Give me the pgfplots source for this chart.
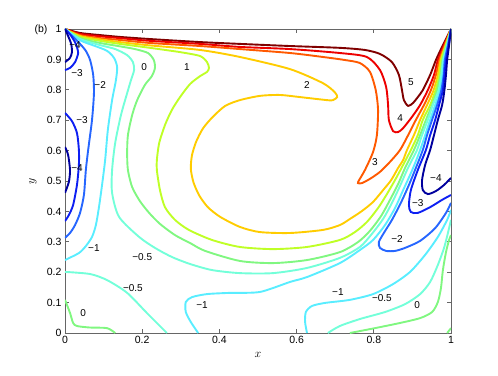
\documentclass[border=0pt]{standalone}
\usepackage{fontspec}
\setmainfont{Liberation Sans}
\usepackage{pgfplots}
\pgfplotsset{compat=1.18}
% contour colours, jet-like, one per level
\definecolor{lvA}{rgb}{0,0,0.62}      % -4
\definecolor{lvB}{rgb}{0.05,0.12,0.95}% -3
\definecolor{lvC}{rgb}{0.15,0.4,1}    % -2
\definecolor{lvD}{rgb}{0.35,0.93,1}   % -1
\definecolor{lvE}{rgb}{0.45,1,0.85}   % -0.5
\definecolor{lvF}{rgb}{0.5,0.97,0.5}  % 0
\definecolor{lvG}{rgb}{0.75,1,0.15}   % 1
\definecolor{lvH}{rgb}{1,0.8,0}       % 2
\definecolor{lvI}{rgb}{1,0.35,0}      % 3
\definecolor{lvJ}{rgb}{0.93,0,0}      % 4
\definecolor{lvK}{rgb}{0.5,0,0}       % 5
\begin{document}
\begin{tikzpicture}
\useasboundingbox (-65pt,-42pt) rectangle (433pt,333pt);
\begin{axis}[
  scale only axis, width=386pt, height=304pt,
  xmin=0, xmax=1, ymin=0, ymax=1,
  xtick={0,0.2,0.4,0.6,0.8,1},
  ytick={0,0.1,0.2,0.3,0.4,0.5,0.6,0.7,0.8,0.9,1},
  tick align=inside, major tick length=4.5pt,
  axis line style={black!60, line width=0.7pt},
  every tick/.style={black!60, line width=0.7pt},
  tick label style={font=\fontsize{10.5}{12}\selectfont, black},
  /pgf/number format/assume math mode=true,
  xlabel={$x$}, ylabel={$y$},
  xlabel style={at={(axis description cs:0.5,-0.072)}, anchor=center, font=\large},
  ylabel style={at={(axis description cs:-0.083,0.5)}, anchor=center, font=\large},
  every axis plot/.append style={line width=1.9pt, smooth, tension=0.45},
  every node/.append style={font=\fontsize{11}{12}\selectfont},
]
% level 5
\addplot[lvK] coordinates {(0,1) (0.039,0.987) (0.091,0.980) (0.142,0.974) (0.220,0.967) (0.350,0.957) (0.453,0.951) (0.583,0.944) (0.712,0.938) (0.777,0.931) (0.816,0.918) (0.847,0.891) (0.865,0.849) (0.873,0.799) (0.878,0.766) (0.889,0.747) (0.902,0.757) (0.914,0.776) (0.927,0.799) (0.946,0.849) (0.961,0.898) (0.979,0.947) (1,1)};
% level 4
\addplot[lvJ] coordinates {(0,1) (0.039,0.984) (0.091,0.976) (0.142,0.970) (0.220,0.961) (0.350,0.951) (0.453,0.941) (0.583,0.934) (0.712,0.921) (0.782,0.908) (0.816,0.865) (0.832,0.809) (0.837,0.750) (0.839,0.701) (0.850,0.664) (0.863,0.661) (0.876,0.674) (0.899,0.711) (0.920,0.750) (0.940,0.799) (0.956,0.849) (0.966,0.898) (0.982,0.947) (1,1)};
% level 3
\addplot[lvI] coordinates {(0,1) (0.039,0.980) (0.091,0.970) (0.142,0.964) (0.220,0.954) (0.350,0.944) (0.453,0.934) (0.583,0.921) (0.668,0.908) (0.725,0.898) (0.764,0.888) (0.790,0.859) (0.805,0.799) (0.811,0.734) (0.808,0.651) (0.798,0.595) (0.777,0.536) (0.762,0.503) (0.759,0.493) (0.769,0.493) (0.790,0.507) (0.816,0.530) (0.842,0.563) (0.868,0.602) (0.889,0.651) (0.909,0.701) (0.930,0.750) (0.948,0.799) (0.961,0.849) (0.970,0.898) (0.984,0.947) (1,1)};
% level 2
\addplot[lvH] coordinates {(0,1) (0.039,0.977) (0.091,0.966) (0.142,0.957) (0.220,0.946) (0.350,0.931) (0.453,0.908) (0.583,0.868) (0.668,0.822) (0.699,0.792) (0.705,0.776) (0.694,0.766) (0.679,0.766) (0.609,0.776) (0.557,0.783) (0.505,0.780) (0.453,0.766) (0.415,0.747) (0.383,0.711) (0.358,0.674) (0.340,0.630) (0.329,0.585) (0.326,0.540) (0.333,0.495) (0.348,0.452) (0.370,0.414) (0.402,0.382) (0.453,0.349) (0.505,0.332) (0.583,0.329) (0.668,0.339) (0.712,0.355) (0.738,0.375) (0.769,0.401) (0.798,0.431) (0.824,0.470) (0.845,0.503) (0.863,0.543) (0.876,0.569) (0.886,0.602) (0.904,0.651) (0.920,0.701) (0.938,0.750) (0.955,0.799) (0.966,0.849) (0.973,0.898) (0.986,0.947) (1,1)};
% level 1
\addplot[lvG] coordinates {(0,1) (0.039,0.974) (0.091,0.961) (0.142,0.951) (0.220,0.938) (0.298,0.924) (0.350,0.911) (0.368,0.891) (0.373,0.872) (0.368,0.859) (0.350,0.845) (0.324,0.819) (0.298,0.776) (0.277,0.734) (0.259,0.684) (0.244,0.625) (0.238,0.569) (0.238,0.536) (0.246,0.470) (0.259,0.414) (0.285,0.372) (0.321,0.339) (0.381,0.306) (0.453,0.283) (0.539,0.276) (0.627,0.283) (0.712,0.306) (0.751,0.332) (0.782,0.365) (0.811,0.411) (0.834,0.457) (0.858,0.510) (0.876,0.553) (0.896,0.602) (0.914,0.651) (0.927,0.701) (0.946,0.750) (0.960,0.799) (0.970,0.849) (0.975,0.898) (0.987,0.947) (1,1)};
% level 0
\addplot[lvF] coordinates {(0,1) (0.039,0.970) (0.091,0.954) (0.142,0.943) (0.181,0.934) (0.215,0.921) (0.230,0.898) (0.233,0.872) (0.225,0.845) (0.207,0.816) (0.187,0.766) (0.174,0.717) (0.163,0.651) (0.161,0.592) (0.163,0.536) (0.174,0.480) (0.194,0.434) (0.218,0.395) (0.246,0.359) (0.285,0.322) (0.324,0.296) (0.363,0.270) (0.453,0.237) (0.539,0.230) (0.627,0.240) (0.712,0.266) (0.759,0.299) (0.790,0.336) (0.819,0.385) (0.842,0.438) (0.863,0.490) (0.881,0.543) (0.904,0.602) (0.920,0.651) (0.935,0.701) (0.951,0.750) (0.964,0.799) (0.973,0.849) (0.978,0.898) (0.988,0.947) (1,1)};
\addplot[lvF] coordinates {(0,0.109) (0.013,0.066) (0.021,0.033) (0.031,0.023) (0.065,0.018) (0.109,0.016) (0.130,0)};
\addplot[lvF] coordinates {(0.738,0) (0.803,0.016) (0.868,0.033) (0.920,0.049) (0.951,0.069) (0.966,0.102) (0.974,0.148) (0.979,0.207) (0.987,0.266) (0.995,0.306) (1,0.322)};
\addplot[lvF] coordinates {(0.990,0) (1,0.016)};
% level -0.5
\addplot[lvE] coordinates {(0,1) (0.039,0.967) (0.091,0.947) (0.130,0.934) (0.161,0.914) (0.176,0.891) (0.179,0.865) (0.171,0.832) (0.161,0.789) (0.145,0.717) (0.130,0.625) (0.122,0.536) (0.122,0.461) (0.140,0.382) (0.192,0.316) (0.233,0.280) (0.277,0.250) (0.324,0.227) (0.381,0.207) (0.453,0.197) (0.539,0.197) (0.627,0.214) (0.712,0.247) (0.764,0.283) (0.795,0.326) (0.824,0.375) (0.847,0.428) (0.868,0.484) (0.886,0.536) (0.899,0.569) (0.912,0.602) (0.925,0.651) (0.940,0.701) (0.953,0.750) (0.968,0.799) (0.975,0.849) (0.980,0.898) (0.990,0.947) (1,1)};
\addplot[lvE] coordinates {(0,0.201) (0.065,0.194) (0.109,0.174) (0.161,0.132) (0.212,0.066) (0.264,0)};
\addplot[lvE] coordinates {(0.681,0) (0.712,0.023) (0.764,0.046) (0.829,0.069) (0.881,0.095) (0.920,0.128) (0.946,0.168) (0.966,0.224) (0.982,0.280) (0.992,0.329) (1,0.372)};
% level -1
\addplot[lvD] coordinates {(0,1) (0.039,0.963) (0.078,0.944) (0.109,0.928) (0.127,0.905) (0.135,0.875) (0.132,0.832) (0.122,0.766) (0.111,0.668) (0.104,0.569) (0.096,0.487) (0.088,0.414) (0.080,0.355) (0.070,0.316) (0.054,0.286) (0.036,0.263) (0,0.240)};
\addplot[lvD] coordinates {(0.345,0) (0.326,0.036) (0.313,0.069) (0.313,0.102) (0.329,0.118) (0.368,0.128) (0.427,0.132) (0.505,0.135) (0.583,0.168) (0.627,0.184) (0.712,0.230) (0.764,0.273) (0.798,0.306) (0.829,0.355) (0.855,0.411) (0.876,0.470) (0.894,0.520) (0.907,0.559) (0.920,0.602) (0.933,0.651) (0.946,0.701) (0.959,0.750) (0.972,0.799) (0.978,0.849) (0.982,0.898) (0.991,0.947) (1,1)};
\addplot[lvD] coordinates {(0.627,0) (0.622,0.036) (0.624,0.069) (0.640,0.089) (0.674,0.099) (0.738,0.109) (0.798,0.128) (0.850,0.161) (0.894,0.201) (0.933,0.257) (0.966,0.316) (0.990,0.372) (1,0.405)};
% level -2
\addplot[lvC] coordinates {(0,1) (0.021,0.974) (0.039,0.951) (0.054,0.928) (0.065,0.898) (0.073,0.849) (0.075,0.789) (0.070,0.701) (0.060,0.602) (0.054,0.536) (0.049,0.454) (0.039,0.395) (0.026,0.355) (0.013,0.329) (0,0.313)};
\addplot[lvC] coordinates {(1,1) (0.992,0.947) (0.984,0.898) (0.981,0.849) (0.975,0.799) (0.964,0.750) (0.951,0.701) (0.938,0.651) (0.927,0.602) (0.909,0.543) (0.891,0.487) (0.870,0.428) (0.847,0.372) (0.826,0.329) (0.813,0.299) (0.816,0.280) (0.832,0.270) (0.855,0.270) (0.881,0.280) (0.920,0.303) (0.959,0.345) (0.987,0.395) (1,0.428)};
% level -3
\addplot[lvB] coordinates {(0,1) (0.016,0.977) (0.028,0.951) (0.034,0.921) (0.026,0.891) (0.013,0.872) (0,0.865)};
\addplot[lvB] coordinates {(0,0.724) (0.018,0.697) (0.031,0.658) (0.036,0.602) (0.036,0.553) (0.031,0.487) (0.021,0.421) (0.010,0.388) (0,0.368)};
\addplot[lvB] coordinates {(1,1) (0.994,0.947) (0.987,0.898) (0.983,0.849) (0.979,0.799) (0.969,0.750) (0.959,0.701) (0.946,0.651) (0.935,0.602) (0.914,0.536) (0.896,0.470) (0.891,0.421) (0.896,0.398) (0.914,0.395) (0.946,0.414) (0.977,0.438) (1,0.454)};
% level -4
\addplot[lvA] coordinates {(0,1) (0.008,0.977) (0.016,0.951) (0.018,0.924) (0.013,0.905) (0,0.891)};
\addplot[lvA] coordinates {(0,0.612) (0.008,0.586) (0.013,0.536) (0.010,0.497) (0,0.461)};
\addplot[lvA] coordinates {(1,1) (0.995,0.947) (0.990,0.898) (0.987,0.849) (0.983,0.799) (0.977,0.750) (0.966,0.701) (0.956,0.651) (0.946,0.602) (0.933,0.553) (0.925,0.503) (0.927,0.470) (0.940,0.457) (0.961,0.467) (0.982,0.487) (1,0.510)};
% contour labels
\node at (axis cs:0.026,0.947) {−4};
\node at (axis cs:0.031,0.855) {−3};
\node at (axis cs:0.091,0.816) {−2};
\node at (axis cs:0.044,0.701) {−3};
\node at (axis cs:0.031,0.543) {−4};
\node at (axis cs:0.075,0.280) {−1};
\node at (axis cs:0.200,0.250) {−0.5};
\node at (axis cs:0.205,0.875) {0};
\node at (axis cs:0.316,0.875) {1};
\node at (axis cs:0.627,0.816) {2};
\node at (axis cs:0.896,0.826) {5};
\node at (axis cs:0.868,0.707) {4};
\node at (axis cs:0.803,0.563) {3};
\node at (axis cs:0.961,0.510) {−4};
\node at (axis cs:0.914,0.428) {−3};
\node at (axis cs:0.860,0.309) {−2};
\node at (axis cs:0.047,0.066) {0};
\node at (axis cs:0.176,0.148) {−0.5};
\node at (axis cs:0.355,0.092) {−1};
\node at (axis cs:0.707,0.135) {−1};
\node at (axis cs:0.821,0.115) {−0.5};
\node at (axis cs:0.912,0.092) {0};
\end{axis}
\node[anchor=east, font=\fontsize{10.5}{12}\selectfont] at (-14pt,303pt) {(b)};
\end{tikzpicture}
\end{document}
